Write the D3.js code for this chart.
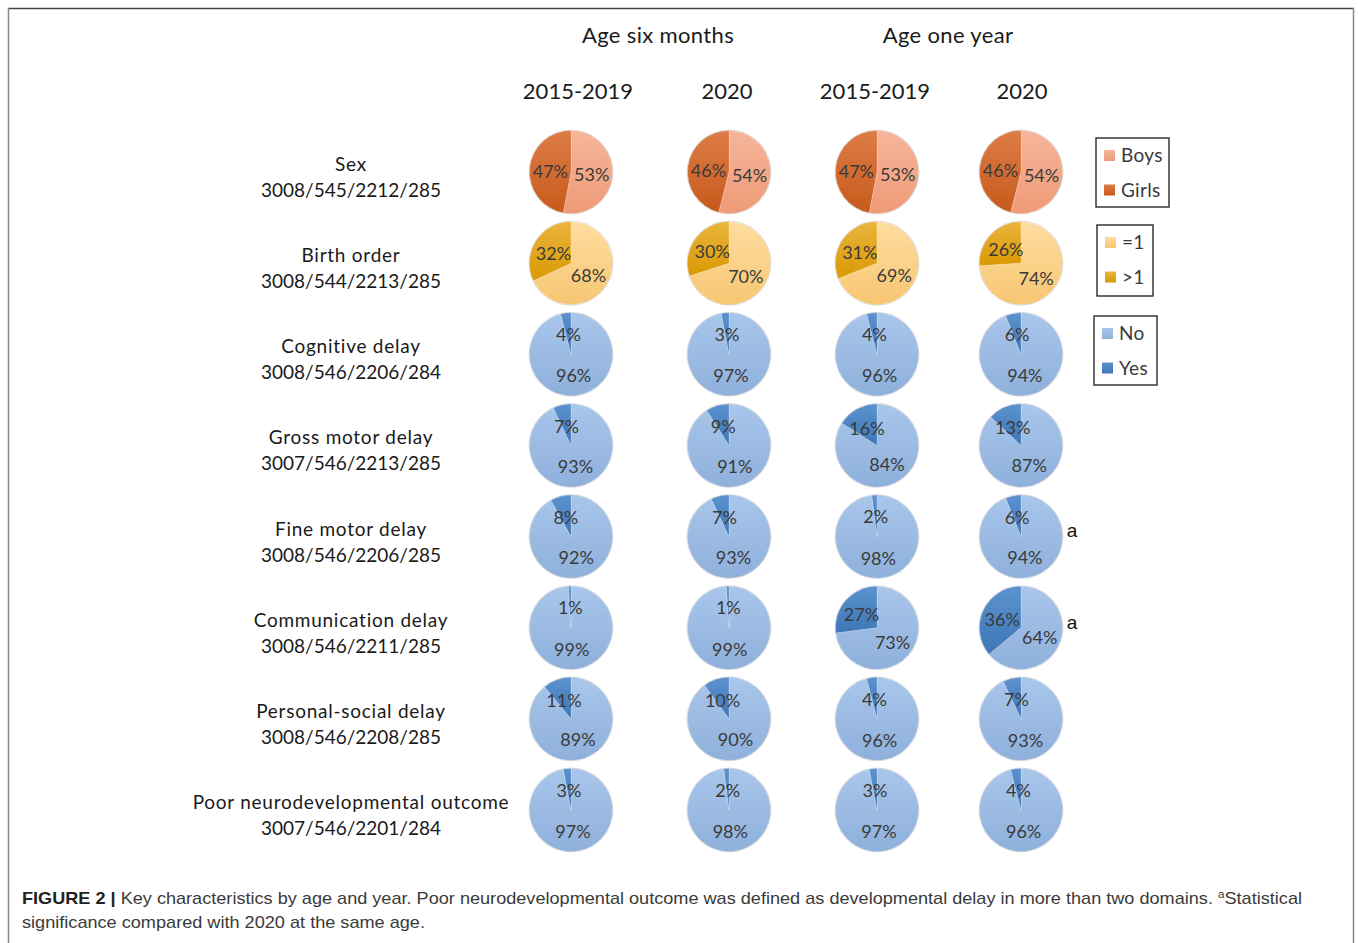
<!DOCTYPE html>
<html><head><meta charset="utf-8">
<script src="https://cdn.jsdelivr.net/npm/d3@7"></script>
<style>
html,body{margin:0;padding:0;background:#fff;}
svg{display:block;}
</style></head>
<body>
<svg id="chart" width="1358" height="943"></svg>
<script>
// ---------- data ----------
const ageGroups = ["Age six months", "Age one year"];
const periods = ["2015-2019", "2020", "2015-2019", "2020"];
const rowNames = ["Sex", "Birth order", "Cognitive delay", "Gross motor delay", "Fine motor delay",
  "Communication delay", "Personal-social delay", "Poor neurodevelopmental outcome"];
const rowNs = ["3008/545/2212/285", "3008/544/2213/285", "3008/546/2206/284", "3007/546/2213/285",
  "3008/546/2206/285", "3008/546/2211/285", "3008/546/2208/285", "3007/546/2201/284"];
const rowScheme = ["sex", "birth", "delay", "delay", "delay", "delay", "delay", "delay"];
// first value = first slice (from 12 o'clock, clockwise), second value = remainder
const sexBoys    = [53, 54, 53, 54];
const sexGirls   = [47, 46, 47, 46];
const birthEq1   = [68, 70, 69, 74];
const birthGt1   = [32, 30, 31, 26];
const cognitiveYes = [4, 3, 4, 6];
const grossYes     = [7, 9, 16, 13];
const fineYes      = [8, 7, 2, 6];
const commYes      = [1, 1, 27, 36];
const personalYes  = [11, 10, 4, 7];
const poorYes      = [3, 2, 3, 4];
const significance = [null, null, null, null, [3], [3], null, null]; // "a" marks
const legendSex   = ["Boys", "Girls"];
const legendBirth = ["=1", ">1"];
const legendDelay = ["No", "Yes"];

const rowsData = [
  sexBoys.map((v, i) => [v, sexGirls[i]]),
  birthEq1.map((v, i) => [v, birthGt1[i]]),
  ...[cognitiveYes, grossYes, fineYes, commYes, personalYes, poorYes].map(arr => arr.map(y => [100 - y, y]))
];

// ---------- styles ----------
const schemes = {
  sex:   {labels: legendSex,   colors: [["#F6B59B", "#EE9A76"], ["#DD7C47", "#C75A1B"]]},
  birth: {labels: legendBirth, colors: [["#FEDDA0", "#F6C672"], ["#EAB43D", "#DA9904"]]},
  delay: {labels: legendDelay, colors: [["#A9C6EB", "#8EB0DB"], ["#5B92CE", "#3E77B7"]]}
};
const FONT = "Lato, 'Open Sans', sans-serif";
const svg = d3.select("#chart");
const defs = svg.append("defs");
Object.entries(schemes).forEach(([k, s]) => {
  s.colors.forEach((c, i) => {
    const g = defs.append("linearGradient").attr("id", `g-${k}-${i}`)
      .attr("x1", 0).attr("y1", 0).attr("x2", 0).attr("y2", 1);
    g.append("stop").attr("offset", "0%").attr("stop-color", c[0]);
    g.append("stop").attr("offset", "100%").attr("stop-color", c[1]);
  });
});

// frame
svg.append("line").attr("x1", 8).attr("x2", 1354).attr("y1", 8.5).attr("y2", 8.5).attr("stroke", "#444").attr("stroke-width", 1.5);
svg.append("line").attr("x1", 8.5).attr("x2", 8.5).attr("y1", 8).attr("y2", 943).attr("stroke", "#888").attr("stroke-width", 1.5);
svg.append("line").attr("x1", 1353.5).attr("x2", 1353.5).attr("y1", 8).attr("y2", 943).attr("stroke", "#888").attr("stroke-width", 1.5);

// ---------- scales ----------
const x = d3.scaleOrdinal().domain(d3.range(4)).range([571, 729, 877, 1021]);
const y = d3.scalePoint().domain(d3.range(rowNames.length)).range([172, 810]);
const R = 41.5;
const pie = d3.pie().sort(null).value(d => d);
const arc = d3.arc().innerRadius(0).outerRadius(R);
const labelArc = d3.arc().innerRadius(0).outerRadius(R);

// headers
svg.selectAll(".age").data(ageGroups).join("text")
  .attr("x", (d, i) => i === 0 ? 658 : 948).attr("y", 43)
  .attr("text-anchor", "middle").attr("font-family", FONT).attr("font-size", 22).attr("fill", "#1a1a1a")
  .attr("letter-spacing", 0.35)
  .text(d => d);
svg.selectAll(".period").data(periods).join("text")
  .attr("x", (d, i) => x(i) + [7, -2, -2, 1][i]).attr("y", 99)
  .attr("text-anchor", "middle").attr("font-family", FONT).attr("font-size", 22).attr("fill", "#1a1a1a")
  .text(d => d);

// row labels
rowNames.forEach((name, r) => {
  const t = svg.append("text").attr("text-anchor", "middle").attr("font-family", FONT)
    .attr("font-size", 19).attr("fill", "#1a1a1a");
  t.append("tspan").attr("x", 351).attr("y", y(r) - 1).attr("letter-spacing", 0.75).text(name);
  t.append("tspan").attr("x", 351).attr("y", y(r) + 25).text(rowNs[r]);
});

// pies
rowsData.forEach((row, r) => {
  const sk = rowScheme[r];
  row.forEach((vals, c) => {
    const g = svg.append("g").attr("transform", `translate(${x(c)},${y(r)})`);
    const arcs = pie(vals);
    g.selectAll("path").data(arcs).join("path")
      .attr("d", arc)
      .attr("fill", (d, i) => `url(#g-${sk}-${i})`)
      .attr("stroke", "rgba(255,255,255,0.35)").attr("stroke-width", 0.6);
    g.append("circle").attr("r", R + 0.5).attr("fill", "none").attr("stroke", "rgba(0,0,0,0.13)").attr("stroke-width", 1);
    g.selectAll("text").data(arcs).join("text")
      .attr("transform", d => { const p = labelArc.centroid(d); return `translate(${p[0]},${p[1] + 1})`; })
      .attr("text-anchor", "middle").attr("dy", "0.36em")
      .attr("font-family", FONT).attr("font-size", 18).attr("fill", "#3a3a3a")
      .text(d => d.data + "%");
  });
  if (significance[r]) {
    significance[r].forEach(c => {
      svg.append("text").attr("x", x(c) + 51).attr("y", y(r) - 6).attr("dy", "0.36em")
        .attr("text-anchor", "middle").attr("font-family", "'Liberation Sans', Arial, sans-serif")
        .attr("font-size", 19).attr("fill", "#111").text("a");
    });
  }
});

// legends
const legendBoxes = [
  {key: "sex",   x: 1096, y: 138, w: 73, h: 69},
  {key: "birth", x: 1097, y: 225, w: 56, h: 71},
  {key: "delay", x: 1094, y: 316, w: 63, h: 69}
];
legendBoxes.forEach(b => {
  const s = schemes[b.key];
  const g = svg.append("g");
  g.append("rect").attr("x", b.x).attr("y", b.y).attr("width", b.w).attr("height", b.h)
    .attr("fill", "#fff").attr("stroke", "#2a2a2a").attr("stroke-width", 1.4);
  s.labels.forEach((lab, i) => {
    const cy = b.y + 17.5 + i * 34.5;
    g.append("rect").attr("x", b.x + 8).attr("y", cy - 5.5).attr("width", 11).attr("height", 11)
      .attr("fill", `url(#g-${b.key}-${i})`);
    g.append("text").attr("x", b.x + 25).attr("y", cy).attr("dy", "0.36em")
      .attr("font-family", FONT).attr("font-size", 19).attr("fill", "#3a3a3a").attr("letter-spacing", 0.3).text(lab);
  });
});

// caption
const CAP = "'Liberation Sans', Arial, sans-serif";
const c1 = svg.append("text").attr("x", 22).attr("y", 904).attr("font-family", CAP).attr("font-size", 17).attr("fill", "#3a3a3a");
c1.append("tspan").attr("font-weight", "bold").attr("fill", "#222").text("FIGURE 2 | ");
c1.append("tspan").text("Key characteristics by age and year. Poor neurodevelopmental outcome was defined as developmental delay in more than two domains. ");
c1.append("tspan").attr("font-size", 11).attr("dy", -6).text("a");
c1.append("tspan").attr("dy", 6).text("Statistical");
c1.attr("textLength", 1280).attr("lengthAdjust", "spacingAndGlyphs");
const c2 = svg.append("text").attr("x", 22).attr("y", 928).attr("font-family", CAP).attr("font-size", 17).attr("fill", "#3a3a3a")
  .text("significance compared with 2020 at the same age.");
c2.attr("textLength", 403).attr("lengthAdjust", "spacingAndGlyphs");
</script>
</body></html>
